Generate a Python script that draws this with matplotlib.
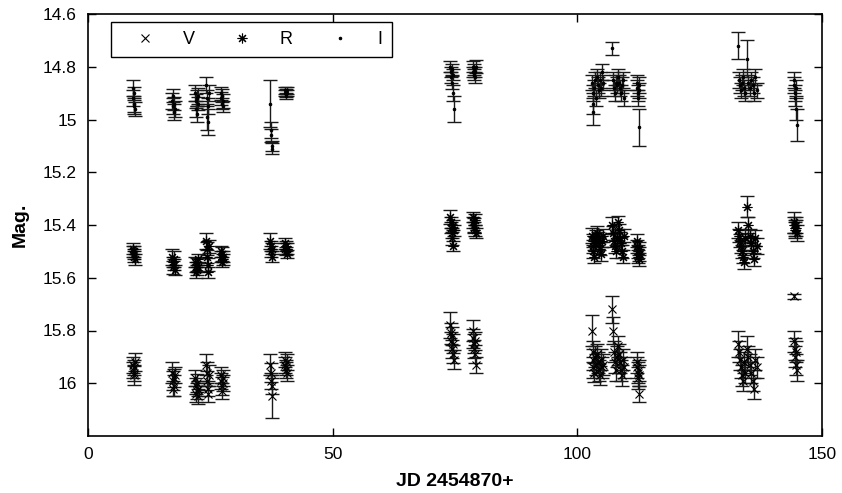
import matplotlib
matplotlib.use("Agg")
import matplotlib.pyplot as plt
from matplotlib.ticker import FormatStrFormatter

plt.rcParams['font.family'] = ['Liberation Sans', 'DejaVu Sans']

# observation times (JD - 2454870), shared by the three bands
jd = [9.1, 9.2, 9.3, 9.4, 9.5, 9.6,
      17.2, 17.3, 17.4, 17.5, 17.6, 17.7,
      21.9, 22.0, 22.1, 22.2, 22.3, 22.4, 22.5,
      24.2, 24.3, 24.4, 24.5, 24.6, 24.7,
      27.1, 27.2, 27.3, 27.4, 27.5, 27.6,
      37.2, 37.3, 37.4, 37.5, 37.6,
      40.2, 40.3, 40.4, 40.5, 40.6, 40.7,
      74.0, 74.1, 74.2, 74.3, 74.4, 74.5, 74.6, 74.7,
      78.6, 78.7, 78.8, 78.9, 79.0, 79.1, 79.2,
      103.0, 103.1, 103.2, 103.3, 103.5, 103.7, 103.9,
      104.1, 104.3, 104.5, 104.7, 104.9, 105.1, 105.3,
      107.1, 107.3, 107.5, 107.7, 107.9, 108.1,
      108.3, 108.5, 108.7, 108.9, 109.1, 109.3, 109.5,
      112.1, 112.2, 112.3, 112.4, 112.5, 112.6, 112.7,
      132.9, 133.1, 133.3, 133.5, 133.7, 133.9, 134.1, 134.3,
      134.6, 134.9, 135.2, 135.5, 135.8, 136.1, 136.4, 136.7,
      144.2, 144.3, 144.4, 144.5, 144.6, 144.7, 144.8]

i_mag = [14.88, 14.92, 14.95, 14.90, 14.94, 14.96,
         14.93, 14.95, 14.91, 14.97, 14.94, 14.96,
         14.90, 14.93, 14.96, 14.92, 14.98, 14.94, 14.91,
         14.87, 14.92, 14.99, 15.01, 14.95, 14.90,
         14.90, 14.92, 14.94, 14.91, 14.95, 14.93,
         14.94, 15.04, 15.06, 15.10, 15.11,
         14.89, 14.90, 14.91, 14.90, 14.89, 14.90,
         14.80, 14.82, 14.84, 14.86, 14.81, 14.83, 14.90, 14.96,
         14.80, 14.82, 14.83, 14.81, 14.84, 14.82, 14.80,
         14.86, 14.90, 14.94, 14.97, 14.88, 14.85, 14.92,
         14.84, 14.87, 14.89, 14.85, 14.88, 14.82, 14.86,
         14.73, 14.85, 14.88, 14.90, 14.86, 14.87,
         14.84, 14.86, 14.88, 14.90, 14.87, 14.85, 14.92,
         14.86, 14.88, 14.90, 14.92, 14.87, 14.89, 15.03,
         14.72, 14.85, 14.87, 14.89, 14.86, 14.84, 14.88, 14.90,
         14.77, 14.86, 14.88, 14.85, 14.87, 14.90, 14.84, 14.89,
         14.85, 14.87, 14.90, 14.92, 14.88, 14.96, 15.02]

i_err = [0.03, 0.03, 0.03, 0.025, 0.03, 0.025,
         0.03, 0.03, 0.025, 0.03, 0.025, 0.03,
         0.03, 0.025, 0.03, 0.03, 0.03, 0.025, 0.03,
         0.03, 0.03, 0.05, 0.05, 0.03, 0.03,
         0.025, 0.025, 0.02, 0.025, 0.02, 0.025,
         0.09, 0.03, 0.025, 0.02, 0.02,
         0.015, 0.012, 0.012, 0.015, 0.012, 0.012,
         0.02, 0.02, 0.02, 0.025, 0.02, 0.02, 0.03, 0.05,
         0.02, 0.02, 0.02, 0.02, 0.02, 0.02, 0.025,
         0.03, 0.03, 0.04, 0.05, 0.03, 0.03, 0.03,
         0.03, 0.03, 0.03, 0.03, 0.03, 0.03, 0.03,
         0.025, 0.03, 0.03, 0.03, 0.03, 0.03,
         0.03, 0.03, 0.03, 0.03, 0.03, 0.03, 0.03,
         0.03, 0.03, 0.03, 0.03, 0.03, 0.03, 0.07,
         0.05, 0.03, 0.03, 0.03, 0.03, 0.03, 0.03, 0.03,
         0.07, 0.03, 0.03, 0.03, 0.03, 0.03, 0.03, 0.03,
         0.03, 0.03, 0.03, 0.03, 0.03, 0.04, 0.06]

r_mag = [15.49, 15.50, 15.52, 15.51, 15.50, 15.53,
         15.52, 15.54, 15.56, 15.55, 15.53, 15.57,
         15.54, 15.56, 15.58, 15.55, 15.57, 15.53, 15.56,
         15.46, 15.49, 15.52, 15.55, 15.58, 15.48,
         15.50, 15.52, 15.54, 15.51, 15.53, 15.52,
         15.46, 15.48, 15.50, 15.52, 15.49,
         15.47, 15.49, 15.50, 15.48, 15.51, 15.49,
         15.37, 15.39, 15.41, 15.43, 15.45, 15.40, 15.48, 15.42,
         15.37, 15.39, 15.41, 15.40, 15.38, 15.42, 15.43,
         15.44, 15.46, 15.48, 15.50, 15.52, 15.47, 15.45,
         15.43, 15.45, 15.47, 15.49, 15.51, 15.46, 15.44,
         15.40, 15.43, 15.46, 15.48, 15.50, 15.45,
         15.39, 15.42, 15.45, 15.47, 15.50, 15.52, 15.44,
         15.46, 15.48, 15.50, 15.52, 15.49, 15.51, 15.53,
         15.42, 15.44, 15.46, 15.48, 15.50, 15.52, 15.54, 15.45,
         15.33, 15.40, 15.44, 15.47, 15.50, 15.53, 15.45, 15.48,
         15.39, 15.40, 15.41, 15.42, 15.40, 15.41, 15.43]

r_err = [0.02, 0.02, 0.02, 0.02, 0.02, 0.02,
         0.03, 0.02, 0.025, 0.02, 0.03, 0.02,
         0.02, 0.02, 0.02, 0.025, 0.02, 0.02, 0.02,
         0.03, 0.025, 0.025, 0.025, 0.02, 0.025,
         0.02, 0.02, 0.02, 0.025, 0.02, 0.02,
         0.03, 0.02, 0.02, 0.02, 0.02,
         0.02, 0.02, 0.015, 0.02, 0.015, 0.02,
         0.025, 0.02, 0.02, 0.02, 0.025, 0.02, 0.02, 0.02,
         0.02, 0.02, 0.02, 0.025, 0.02, 0.02, 0.02,
         0.03, 0.025, 0.025, 0.025, 0.025, 0.025, 0.03,
         0.025, 0.025, 0.025, 0.025, 0.025, 0.025, 0.025,
         0.03, 0.025, 0.025, 0.025, 0.025, 0.025,
         0.025, 0.025, 0.025, 0.025, 0.025, 0.025, 0.025,
         0.025, 0.025, 0.025, 0.025, 0.025, 0.025, 0.025,
         0.03, 0.025, 0.025, 0.025, 0.025, 0.025, 0.025, 0.03,
         0.04, 0.03, 0.025, 0.025, 0.025, 0.025, 0.03, 0.03,
         0.04, 0.03, 0.03, 0.03, 0.03, 0.03, 0.03]

v_mag = [15.93, 15.95, 15.97, 15.94, 15.96, 15.92,
         15.96, 15.99, 16.02, 15.98, 16.01, 15.97,
         15.98, 16.01, 16.04, 16.03, 16.00, 16.02, 16.05,
         15.93, 15.96, 15.99, 16.02, 16.04, 15.97,
         15.97, 15.99, 16.01, 16.03, 15.98, 16.00,
         15.93, 15.96, 15.99, 16.01, 16.05,
         15.91, 15.93, 15.95, 15.94, 15.92, 15.96,
         15.78, 15.81, 15.84, 15.87, 15.82, 15.85, 15.89, 15.91,
         15.80, 15.83, 15.85, 15.87, 15.84, 15.89, 15.93,
         15.80, 15.88, 15.91, 15.94, 15.96, 15.90, 15.93,
         15.89, 15.92, 15.95, 15.97, 15.91, 15.94, 15.93,
         15.72, 15.80, 15.88, 15.92, 15.95, 15.90,
         15.86, 15.89, 15.92, 15.95, 15.97, 15.91, 15.94,
         15.92, 15.94, 15.96, 15.98, 15.95, 15.97, 16.04,
         15.85, 15.88, 15.91, 15.94, 15.97, 15.99, 15.92, 15.96,
         15.87, 15.90, 15.93, 15.96, 15.99, 16.02, 15.91, 15.94,
         15.67, 15.84, 15.87, 15.90, 15.93, 15.88, 15.95]

v_err = [0.03, 0.03, 0.035, 0.03, 0.03, 0.035,
         0.04, 0.035, 0.03, 0.035, 0.04, 0.03,
         0.03, 0.03, 0.03, 0.03, 0.035, 0.03, 0.03,
         0.04, 0.04, 0.035, 0.03, 0.03, 0.04,
         0.03, 0.03, 0.035, 0.03, 0.03, 0.03,
         0.04, 0.035, 0.03, 0.03, 0.08,
         0.03, 0.03, 0.03, 0.03, 0.03, 0.03,
         0.05, 0.04, 0.035, 0.035, 0.035, 0.035, 0.035, 0.035,
         0.04, 0.035, 0.035, 0.035, 0.035, 0.035, 0.03,
         0.06, 0.04, 0.04, 0.04, 0.035, 0.04, 0.04,
         0.04, 0.04, 0.04, 0.035, 0.04, 0.04, 0.04,
         0.05, 0.05, 0.04, 0.04, 0.04, 0.04,
         0.04, 0.04, 0.04, 0.04, 0.04, 0.04, 0.04,
         0.04, 0.04, 0.04, 0.04, 0.04, 0.04, 0.03,
         0.05, 0.04, 0.04, 0.04, 0.04, 0.04, 0.04, 0.04,
         0.05, 0.04, 0.04, 0.04, 0.04, 0.04, 0.04, 0.04,
         0.01, 0.04, 0.04, 0.04, 0.04, 0.04, 0.04]

fig = plt.figure(figsize=(8.42, 4.93), dpi=100)
ax = fig.add_axes([88 / 842, 1 - 436 / 493, 734 / 842, 422 / 493])

bands = [(v_mag, v_err, 'x', 6, 'V'),
         (r_mag, r_err, (8, 2, 0), 7, 'R'),
         (i_mag, i_err, '.', 3.5, 'I')]

handles = []
for mag, err, mk, ms, lab in bands:
    ax.errorbar(jd, mag, yerr=err, fmt='none', ecolor='#1a1a1a',
                elinewidth=1.0, capsize=5, capthick=1.0)
    h, = ax.plot(jd, mag, linestyle='none', marker=mk, markersize=ms,
                 color='k', markeredgewidth=0.8, label=lab)
    handles.append(h)

ax.set_xlim(0, 150)
ax.set_ylim(16.2, 14.6)
ax.set_xticks([0, 50, 100, 150])
ax.set_yticks([14.6, 14.8, 15.0, 15.2, 15.4, 15.6, 15.8, 16.0])
ax.yaxis.set_major_formatter(FormatStrFormatter('%g'))
ax.tick_params(direction='in', top=True, right=True, length=6,
               width=1, labelsize=12.5, pad=8)
for sp in ax.spines.values():
    sp.set_linewidth(1.2)

ax.set_xlabel('JD 2454870+', fontsize=14, fontweight='bold', labelpad=8)
ax.set_ylabel('Mag.', fontsize=14, fontweight='bold', labelpad=10)

leg = ax.legend(handles=handles, ncol=3, loc='upper left',
                bbox_to_anchor=(0.031, 0.981), borderaxespad=0,
                fontsize=13, handlelength=2.8, handletextpad=0.7,
                columnspacing=1.2, borderpad=0.5, fancybox=False,
                framealpha=1, edgecolor='k', numpoints=1)
leg.get_frame().set_linewidth(1.0)

fig.savefig('out.png', dpi=100)
